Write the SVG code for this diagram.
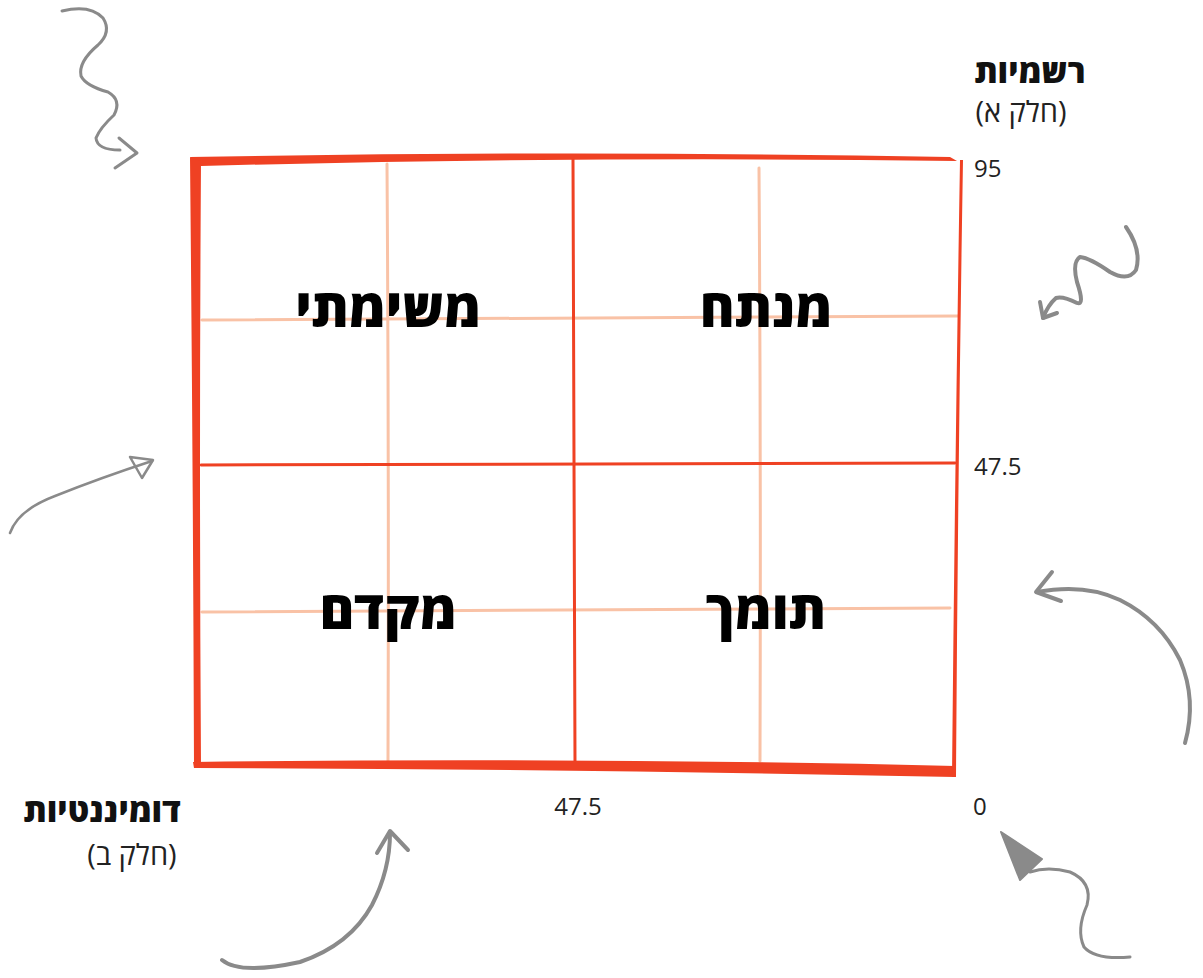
<svg xmlns="http://www.w3.org/2000/svg" width="1203" height="978" viewBox="0 0 1203 978">
<style>
.frame{fill:#EF4123;}
.redline{stroke:#EF4123;stroke-width:3;fill:none;stroke-linecap:round;}
.light{stroke:#F9C2A6;stroke-width:3;fill:none;stroke-linecap:round;}
.arrow{stroke:#8A8A8A;fill:none;stroke-linecap:round;stroke-linejoin:round;}
.lbl{font-family:"Open Sans","DejaVu Sans",sans-serif;font-weight:800;font-size:53px;fill:#000;}
.axis{font-family:"Open Sans","DejaVu Sans",sans-serif;font-weight:800;font-size:33px;fill:#111;}
.sub{font-family:"Open Sans","DejaVu Sans",sans-serif;font-weight:400;font-size:29px;fill:#222;}
.num{font-family:"Open Sans","DejaVu Sans",sans-serif;font-weight:400;font-size:24px;fill:#222;}
</style>
<rect width="1203" height="978" fill="#fff"/>
<g id="grid">
  <path class="light" d="M387,164 Q389,460 388,761"/>
  <path class="light" d="M759,168 Q761,460 760,761"/>
  <path class="light" d="M202,320 Q580,317 958,316"/>
  <path class="light" d="M202,612 Q580,609 950,608"/>
  <path class="redline" d="M573,159 Q574,460 575,764"/>
  <path class="redline" d="M201,465 Q580,463 955,463"/>
</g>
<g id="frame">
  <path class="frame" d="M190,157 Q575,150 950,157 L957,161 Q575,156 201,166 Z"/>
  <path class="frame" d="M190,157 L201,161 Q199,460 201,767 L194,768 Q193,460 190,157 Z"/>
  <path class="frame" d="M193,762 Q575,757 955,766 L955,777 Q575,769 194,768 Z"/>
  <path class="frame" d="M960,160 L963,160 Q958,460 956,777 L952,777 Q955,460 960,160 Z"/>
</g>
<g id="node-mesimati"><text class="lbl" x="388" y="327" text-anchor="middle" direction="rtl">משימתי</text></g>
<g id="node-menateah"><text class="lbl" x="766" y="327" text-anchor="middle" direction="rtl">מנתח</text></g>
<g id="node-mekadem"><text class="lbl" x="388" y="629" text-anchor="middle" direction="rtl">מקדם</text></g>
<g id="node-tomech"><text class="lbl" x="766" y="629" text-anchor="middle" direction="rtl">תומך</text></g>
<g id="axis-labels">
  <text class="axis" x="1030" y="83" text-anchor="middle" direction="rtl">רשמיות</text>
  <text class="sub" x="1021" y="122" text-anchor="middle" direction="rtl">(חלק א)</text>
  <text class="num" x="974" y="177">95</text>
  <text class="num" x="974" y="475">47.5</text>
  <text class="num" x="578" y="815" text-anchor="middle">47.5</text>
  <text class="num" x="973" y="815">0</text>
  <text class="axis" x="102" y="822" text-anchor="middle" direction="rtl">דומיננטיות</text>
  <text class="sub" x="132" y="865" text-anchor="middle" direction="rtl">(חלק ב)</text>
</g>
<g id="connectors">
  <path class="arrow" stroke-width="3" d="M62,11 Q90,4 103,18 Q112,32 98,45 Q78,62 81,76 Q86,86 108,92 Q122,100 114,115 Q100,128 96,138 Q97,150 120,150"/>
  <path class="arrow" stroke-width="3" d="M119,138 L137,153 L115,168"/>
  <path class="arrow" stroke-width="4" d="M1126,227 Q1142,250 1136,270 Q1128,282 1110,272 Q1090,258 1080,257 Q1072,262 1077,282 Q1085,306 1077,303 Q1063,296 1056,298 Q1048,305 1043,318"/>
  <path class="arrow" stroke-width="4" d="M1040,302 L1043,318 L1057,313"/>
  <path class="arrow" stroke-width="2.5" d="M10,533 Q18,510 55,496 Q100,478 152,461"/>
  <path class="arrow" stroke-width="2.5" d="M153,460 L130,457 L142,478 Z"/>
  <path class="arrow" stroke-width="4" d="M1185,743 Q1197,700 1180,660 Q1160,620 1120,600 Q1085,583 1037,592"/>
  <path class="arrow" stroke-width="4" d="M1052,572 L1036,592 L1061,601"/>
  <path class="arrow" stroke-width="4" d="M222,960 Q240,975 300,962 Q350,945 372,905 Q390,870 390,833"/>
  <path class="arrow" stroke-width="4" d="M377,853 L390,831 L408,850"/>
  <path class="arrow" stroke-width="3" d="M1130,957 Q1095,960 1084,947 Q1076,930 1087,905 Q1093,882 1070,872 Q1048,866 1030,872"/>
  <path d="M1001,832 L1042,859 L1020,880 Z" fill="#8A8A8A" stroke="#8A8A8A" stroke-width="2" stroke-linejoin="round"/>
</g>
</svg>
